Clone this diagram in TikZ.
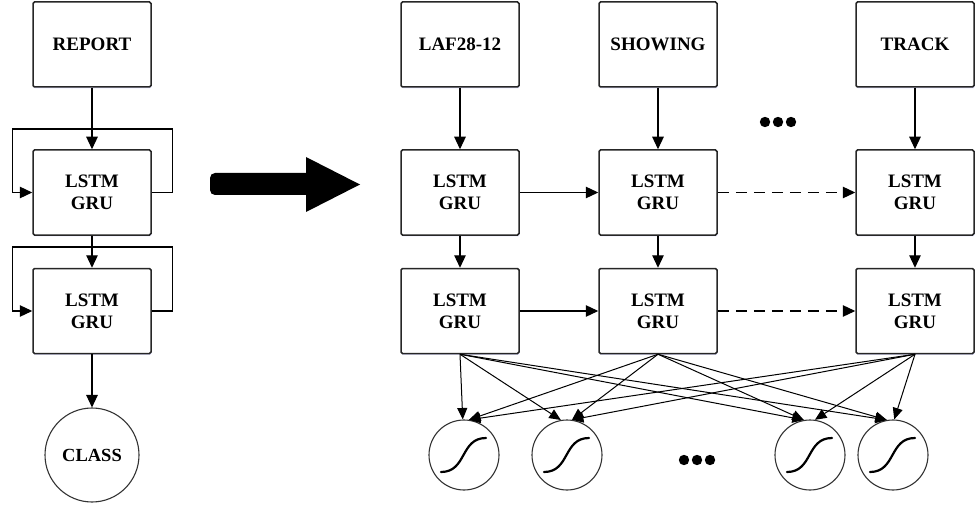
\documentclass[tikz,border=0pt]{standalone}
\usepackage{fontspec}
\setmainfont{Liberation Serif}
\usetikzlibrary{arrows.meta,shadows}

\begin{document}
\begin{tikzpicture}[x=1pt,y=-1pt,
  cell/.style={draw=black!85, line width=1.5pt, fill=white, rounded corners=1.5pt,
    minimum width=118pt, minimum height=85pt, inner sep=0pt, align=center,
    font=\fontsize{19}{22}\selectfont\bfseries,
    drop shadow={shadow xshift=0.6pt, shadow yshift=-1.4pt, fill=blue!30, opacity=0.35}},
  unit/.style={circle, draw=black!80, line width=1.1pt, fill=white, inner sep=0pt,
    minimum size=70pt},
  link/.style={line width=1.2pt, -{Triangle[length=12.5pt,width=11.5pt]}},
  fan/.style={line width=1pt, -{Triangle[length=11.5pt,width=10pt]}},
  dotmark/.style={fill=black},
  sigmoid/.style={line width=2.2pt, line cap=round}
]
\useasboundingbox (0,0) rectangle (978,508);

% ---- unrolled-in-time view (left) ----
\node[cell] (rep) at (92,44.5) {REPORT};
\node[cell] (l1) at (92,192.5) {LSTM\\GRU};
\node[cell] (l2) at (92,311) {LSTM\\GRU};
\node[unit, minimum size=94pt, font=\fontsize{18.5}{22}\selectfont\bfseries] (cls) at (92,455) {CLASS};

\draw[link] (rep) -- (l1);
\draw[link] (l1) -- (l2);
\draw[link] (l2) -- (cls);
\draw[link] (l1.east) -- ++(21,0) -- ++(0,-63.5) -- ++(-160,0) -- ++(0,63.5) -- (l1.west);
\draw[link] (l2.east) -- ++(21,0) -- ++(0,-64) -- ++(-160,0) -- ++(0,64) -- (l2.west);

% ---- big transition arrow ----
\fill[rounded corners=5pt] (210,173) rectangle (312,195);
\fill (306,157) -- (360,184.5) -- (306,212) -- cycle;

% ---- unfolded network (right) ----
\node[cell] (i1) at (460,44.5) {LAF28-12};
\node[cell] (i2) at (658,44.5) {SHOWING};
\node[cell] (i3) at (915,44.5) {TRACK};

\node[cell] (a1) at (460,192.5) {LSTM\\GRU};
\node[cell] (a2) at (658,192.5) {LSTM\\GRU};
\node[cell] (a3) at (915,192.5) {LSTM\\GRU};

\node[cell] (r1) at (460,311) {LSTM\\GRU};
\node[cell] (r2) at (658,311) {LSTM\\GRU};
\node[cell] (r3) at (915,311) {LSTM\\GRU};

\node[unit] (s1) at (464,455) {};
\node[unit] (s2) at (567,455) {};
\node[unit] (s3) at (810,455) {};
\node[unit] (s4) at (893,455) {};

\foreach \n in {s1,s2,s3,s4}
  \draw[sigmoid, shift={(\n)}] (-23,17) .. controls (3,17) and (-4,-17) .. (22,-17);

\draw[link] (i1) -- (a1);
\draw[link] (i2) -- (a2);
\draw[link] (i3) -- (a3);
\draw[link] (a1) -- (r1);
\draw[link] (a2) -- (r2);
\draw[link] (a3) -- (r3);

\draw[link] (a1) -- (a2);
\draw[link, dash pattern=on 11pt off 7pt] (a2) -- (a3);
\draw[link] (r1) -- (r2);
\draw[link, dash pattern=on 11pt off 7pt] (r2) -- (r3);

% fully connected output layer
\draw[fan] (r1.south) -- (s1.92);
\draw[fan] (r1.south) -- (s2.100);
\draw[fan] (r1.south) -- (s3.100);
\draw[fan] (r1.south) -- (s4.100);
\draw[fan] (r2.south) -- (s1.82);
\draw[fan] (r2.south) -- (s2.82);
\draw[fan] (r2.south) -- (s3.100);
\draw[fan] (r2.south) -- (s4.100);
\draw[fan] (r3.south) -- (s1.82);
\draw[fan] (r3.south) -- (s2.82);
\draw[fan] (r3.south) -- (s3.82);
\draw[fan] (r3.south) -- (s4.88);

% ellipses
\foreach \x in {765,778,791} \fill[dotmark] (\x,122) circle (5.2);
\foreach \x in {684,697,710} \fill[dotmark] (\x,460) circle (5.2);
\end{tikzpicture}
\end{document}
